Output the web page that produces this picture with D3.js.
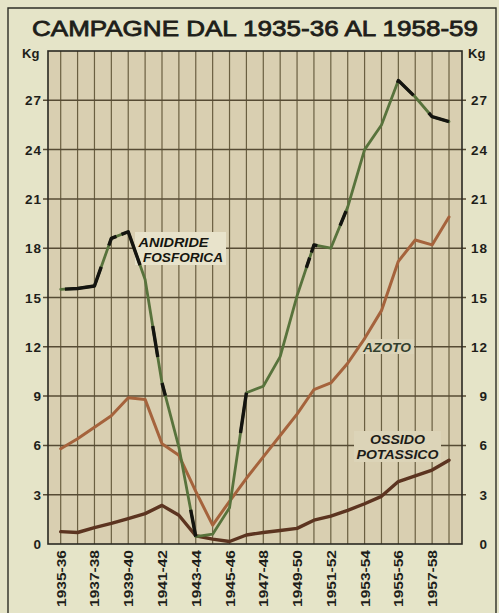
<!DOCTYPE html>
<html>
<head>
<meta charset="utf-8">
<script src="https://cdn.jsdelivr.net/npm/d3@7/dist/d3.min.js"></script>
<style>
  html, body { margin: 0; padding: 0; background: #e5e4c8; }
  svg { display: block; }
</style>
</head>
<body>
<svg id="chart" width="499" height="613"></svg>
<script>
// Seasons (campagne) on the x axis
const seasons = ["1935-36","1936-37","1937-38","1938-39","1939-40","1940-41","1941-42","1942-43",
  "1943-44","1944-45","1945-46","1946-47","1947-48","1948-49","1949-50","1950-51","1951-52",
  "1952-53","1953-54","1954-55","1955-56","1956-57","1957-58","1958-59"];
// Labelled seasons (every other one)
const xTickLabels = ["1935-36","1937-38","1939-40","1941-42","1943-44","1945-46","1947-48",
  "1949-50","1951-52","1953-54","1955-56","1957-58"];
const yTicks = [0, 3, 6, 9, 12, 15, 18, 21, 24, 27];

// Kg per hectare
const anidrideFosforica = [15.5, 15.55, 15.7, 18.6, 19.0, 16.1, 9.8, 5.9, 0.45, 0.6, 2.2, 9.2,
  9.6, 11.4, 15.1, 18.2, 18.0, 20.5, 24.0, 25.5, 28.2, 27.2, 26.0, 25.7];
const azoto = [5.8, 6.4, 7.1, 7.8, 8.9, 8.8, 6.1, 5.4, 3.2, 1.15, 2.6, 4.0, 5.3, 6.6, 7.9, 9.4,
  9.8, 11.0, 12.5, 14.2, 17.2, 18.5, 18.2, 19.9];
const ossidoPotassico = [0.75, 0.7, 1.0, 1.25, 1.55, 1.85, 2.35, 1.75, 0.5, 0.3, 0.15, 0.55,
  0.7, 0.82, 0.95, 1.45, 1.7, 2.05, 2.45, 2.9, 3.8, 4.15, 4.5, 5.1];

// stretches of the phosphoric line where the black ink overprints the green (season index ranges)
const blackInk = [[0.25, 2.4], [2.85, 3.3], [3.6, 4.7], [5.45, 5.75], [6.0, 6.2], [7.7, 8.0],
  [10.65, 11.0], [14.55, 14.75], [14.85, 15.2], [16.55, 16.9], [19.95, 20.9], [21.8, 23]];

const svg = d3.select("#chart");
const L = 48, R = 462, T = 51, B = 544;

const x = d3.scaleLinear().domain([0, seasons.length - 1]).range([60.7, 449]);
const y = d3.scaleLinear().domain([0, 30]).range([B, T]);

// outer sheet frame
svg.append("path")
  .attr("d", `M8,613 V8 H496 V613`)
  .attr("fill", "none").attr("stroke", "#2e2e26").attr("stroke-width", 1.4);

// title
svg.append("text")
  .attr("x", 32).attr("y", 36)
  .attr("textLength", 446).attr("lengthAdjust", "spacingAndGlyphs")
  .attr("font-family", "'Liberation Sans', Arial, sans-serif")
  .attr("font-size", 22.5)
  .attr("fill", "#1e1e1a").attr("stroke", "#1e1e1a").attr("stroke-width", 0.8)
  .text("CAMPAGNE DAL 1935-36 AL 1958-59");

// plot background
svg.append("rect").attr("x", L).attr("y", T).attr("width", R - L).attr("height", B - T)
  .attr("fill", "#d9cfb1");

// vertical grid, one line per season
svg.append("g").selectAll("line").data(seasons).join("line")
  .attr("x1", (d, i) => x(i)).attr("x2", (d, i) => x(i))
  .attr("y1", T).attr("y2", B)
  .attr("stroke", "#6a5f41").attr("stroke-width", 1.2);

// horizontal grid every 3 kg, with short outer ticks
svg.append("g").selectAll("line").data(yTicks.filter(d => d > 0)).join("line")
  .attr("x1", L - 5).attr("x2", R + 4)
  .attr("y1", d => y(d)).attr("y2", d => y(d))
  .attr("stroke", "#564b34").attr("stroke-width", 1.5);

// label backdrops hide the grid behind the series names
const backdrops = [
  { x0: 135, x1: 226, y0: 232, y1: 265, fill: "#e8e3cb" },
  { x0: 360, x1: 414, y0: 339, y1: 354, fill: "#dcd4b8" },
  { x0: 354, x1: 441, y0: 431, y1: 462, fill: "#dcd4b8" }
];
svg.append("g").selectAll("rect").data(backdrops).join("rect")
  .attr("x", d => d.x0).attr("y", d => d.y0)
  .attr("width", d => d.x1 - d.x0).attr("height", d => d.y1 - d.y0)
  .attr("fill", d => d.fill);

// plot frame
svg.append("rect").attr("x", L).attr("y", T).attr("width", R - L).attr("height", B - T)
  .attr("fill", "none").attr("stroke", "#2a2822").attr("stroke-width", 1.6);

// y tick labels on both sides
const tickFont = "'Liberation Sans', Arial, sans-serif";
function yLabels(xEnd) {
  svg.append("g").selectAll("text").data(yTicks).join("text")
    .attr("x", xEnd).attr("y", d => y(d) + 5)
    .attr("text-anchor", "end").attr("letter-spacing", 1)
    .attr("font-family", tickFont).attr("font-weight", "bold").attr("font-size", 13.5)
    .attr("fill", "#1e1e1a").text(d => d);
}
yLabels(42);
yLabels(488);
svg.append("text").attr("x", 22).attr("y", 58)
  .attr("font-family", tickFont).attr("font-weight", "bold").attr("font-size", 13)
  .attr("fill", "#1e1e1a").text("Kg");
svg.append("text").attr("x", 468).attr("y", 58)
  .attr("font-family", tickFont).attr("font-weight", "bold").attr("font-size", 13)
  .attr("fill", "#1e1e1a").text("Kg");

// x labels, rotated, reading upward
svg.append("g").selectAll("text").data(xTickLabels).join("text")
  .attr("transform", d => `translate(${x(seasons.indexOf(d)) + 5},550) rotate(-90)`)
  .attr("text-anchor", "end")
  .attr("textLength", 57).attr("lengthAdjust", "spacingAndGlyphs")
  .attr("font-family", tickFont).attr("font-weight", "bold").attr("font-size", 13.5)
  .attr("fill", "#1e1e1a").text(d => d);

// series lines
const line = d3.line().x((d, i) => x(i)).y(d => y(d));
function drawSeries(values, color, width) {
  svg.append("path").datum(values)
    .attr("d", line)
    .attr("fill", "none").attr("stroke", color).attr("stroke-width", width)
    .attr("stroke-linejoin", "round").attr("stroke-linecap", "round");
}
drawSeries(ossidoPotassico, "#5c3420", 3.4);
drawSeries(azoto, "#a5633c", 3);
drawSeries(anidrideFosforica, "#58733c", 2.8);

// black overprint on parts of the phosphoric line
function valueAt(values, t) {
  const i = Math.min(Math.floor(t), values.length - 2);
  const f = t - i;
  return values[i] + (values[i + 1] - values[i]) * f;
}
const inkPieces = blackInk.map(([a, b]) => {
  const ts = [a];
  for (let k = Math.ceil(a); k < b; k++) if (k > a) ts.push(k);
  ts.push(b);
  return ts;
});
svg.append("g").selectAll("path").data(inkPieces).join("path")
  .attr("d", ts => d3.line().x(t => x(t)).y(t => y(valueAt(anidrideFosforica, t)))(ts))
  .attr("fill", "none").attr("stroke", "#141410").attr("stroke-width", 3.4)
  .attr("stroke-linejoin", "round").attr("stroke-linecap", "butt");

// series names
const nameFont = "'Liberation Sans', Arial, sans-serif";
function name(txt, x0, yb, len, size, color) {
  svg.append("text").attr("x", x0).attr("y", yb)
    .attr("textLength", len).attr("lengthAdjust", "spacingAndGlyphs")
    .attr("font-family", nameFont).attr("font-weight", "bold").attr("font-style", "italic")
    .attr("font-size", size).attr("fill", color).text(txt);
}
name("ANIDRIDE", 138.5, 246.5, 70, 13, "#15150f");
name("FOSFORICA", 143, 261.5, 80, 13, "#15150f");
name("AZOTO", 363, 352, 48, 13, "#33402e");
name("OSSIDO", 370, 444, 55, 13, "#1c1c18");
name("POTASSICO", 356.5, 459, 82, 13, "#1c1c18");
</script>
</body>
</html>
